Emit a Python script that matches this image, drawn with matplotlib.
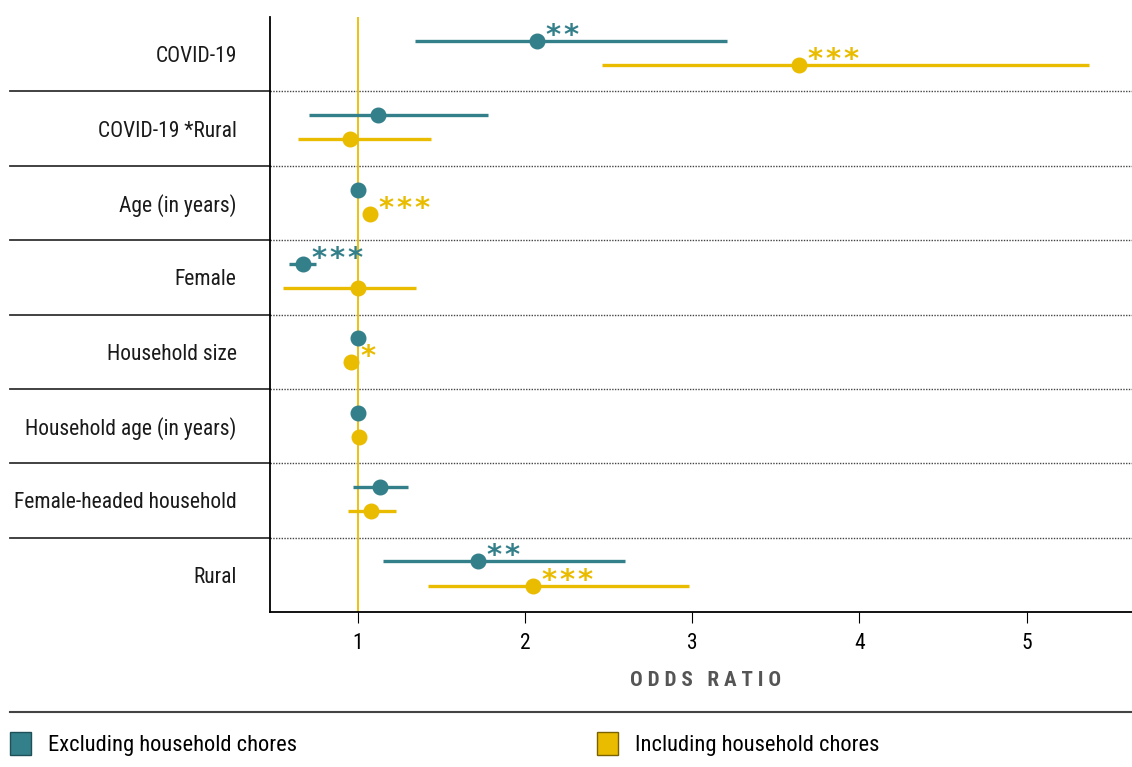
import matplotlib
matplotlib.use("Agg")
import matplotlib.pyplot as plt
from matplotlib import font_manager
from matplotlib.patches import Patch
from matplotlib.lines import Line2D

# ---------------- data ----------------
labels = ["COVID-19", "COVID-19 *Rural", "Age (in years)", "Female",
          "Household size", "Household age (in years)",
          "Female-headed household", "Rural"]

excl_or = [2.07, 1.12, 1.00, 0.67, 1.00, 1.00, 1.13, 1.72]
excl_lo = [1.34, 0.71, 0.995, 0.59, 0.995, 0.995, 0.97, 1.15]
excl_hi = [3.21, 1.78, 1.005, 0.75, 1.005, 1.005, 1.30, 2.60]
excl_sig = ["**", "", "", "***", "", "", "", "**"]

incl_or = [3.64, 0.95, 1.07, 1.00, 0.96, 1.005, 1.08, 2.05]
incl_lo = [2.46, 0.64, 1.065, 0.55, 0.955, 1.00, 0.94, 1.42]
incl_hi = [5.37, 1.44, 1.075, 1.35, 0.965, 1.01, 1.23, 2.98]
incl_sig = ["***", "", "***", "", "*", "", "", "***"]

xticks = [1, 2, 3, 4, 5]
series_names = ["Excluding household chores", "Including household chores"]

# ---------------- style ----------------
TEAL = "#337F8A"
GOLD = "#E9BC00"
names = {f.name for f in font_manager.fontManager.ttflist}
font = "DejaVu Sans"
for cand in ["Liberation Sans Narrow", "Roboto Condensed", "Open Sans Condensed",
             "Noto Sans Condensed"]:
    if cand in names:
        font = cand
        break
plt.rcParams["font.family"] = [font, "DejaVu Sans"]

W, H = 1132, 767
fig = plt.figure(figsize=(W / 100, H / 100), dpi=100)
ax_left, ax_right = 270 / W, 1.0
ax_bottom, ax_top = 1 - 612 / H, 1 - 17 / H
ax = fig.add_axes([ax_left, ax_bottom, ax_right - ax_left, ax_top - ax_bottom])

n = len(labels)
ax.set_xlim(0.474, 5.63)
ax.set_ylim(n - 0.5, -0.5)

off_t, off_g = -0.18, 0.145

# separators
for i in range(n - 1):
    yy = i + 0.5
    ax.axhline(yy, color="#444444", lw=1.0, ls=(0, (1, 1)), zorder=1)
    ax.add_line(Line2D([-260 / (W - 270), 0], [yy, yy], transform=ax.get_yaxis_transform(),
                       color="#333333", lw=1.3, clip_on=False))

ax.axvline(1, color=GOLD, lw=1.3, zorder=2)

for i in range(n):
    yt, yg = i + off_t, i + off_g
    ax.plot([excl_lo[i], excl_hi[i]], [yt, yt], color=TEAL, lw=2.4, solid_capstyle="butt", zorder=3)
    ax.plot([excl_or[i]], [yt], "o", color=TEAL, ms=10.5, zorder=4)
    ax.plot([incl_lo[i], incl_hi[i]], [yg, yg], color=GOLD, lw=2.4, solid_capstyle="butt", zorder=3)
    ax.plot([incl_or[i]], [yg], "o", color=GOLD, ms=10.5, zorder=4)
    for val, yy, sig, col in [(excl_or[i], yt, excl_sig[i], TEAL), (incl_or[i], yg, incl_sig[i], GOLD)]:
        if sig:
            ax.annotate("\u200a".join(sig), xy=(val, yy), xytext=(9, -3),
                        textcoords="offset pixels",
                        ha="left", va="baseline", fontsize=21, fontweight="bold", color=col,
                        family=["DejaVu Sans"], zorder=5)

ax.set_yticks(range(n))
ax.set_yticklabels(labels)
ax.tick_params(axis="y", length=0, pad=24, labelsize=15.5, labelcolor="#1a1a1a")
ax.set_xticks(xticks)
ax.set_xticklabels([str(t) for t in xticks])
ax.tick_params(axis="x", length=8, width=0.8, pad=7, labelsize=15.5, direction="out")

for s in ["top", "right"]:
    ax.spines[s].set_visible(False)
ax.spines["left"].set_linewidth(1.3)
ax.spines["bottom"].set_linewidth(1.3)

fig.text(706 / W, 1 - 680 / H, "O D D S   R A T I O", ha="center", va="center",
         fontsize=15.2, fontweight="bold", color="#555555")

# legend separator line
fig.add_artist(Line2D([10 / W, 1.0], [1 - 712 / H, 1 - 712 / H], color="#444444", lw=1.5))

for xpos, name, col, ecol in [(10 / W, series_names[0], TEAL, "#1f4f57"),
                              (597 / W, series_names[1], GOLD, "#7a6200")]:
    fig.legend(handles=[Patch(facecolor=col, edgecolor=ecol, lw=1.0, label=name)],
               loc="center left", bbox_to_anchor=(xpos, 1 - 744 / H), frameon=False,
               fontsize=16.2, handlelength=0.95, handleheight=1.2, handletextpad=0.75,
               borderaxespad=0, borderpad=0)

fig.savefig("out.png", dpi=100)
